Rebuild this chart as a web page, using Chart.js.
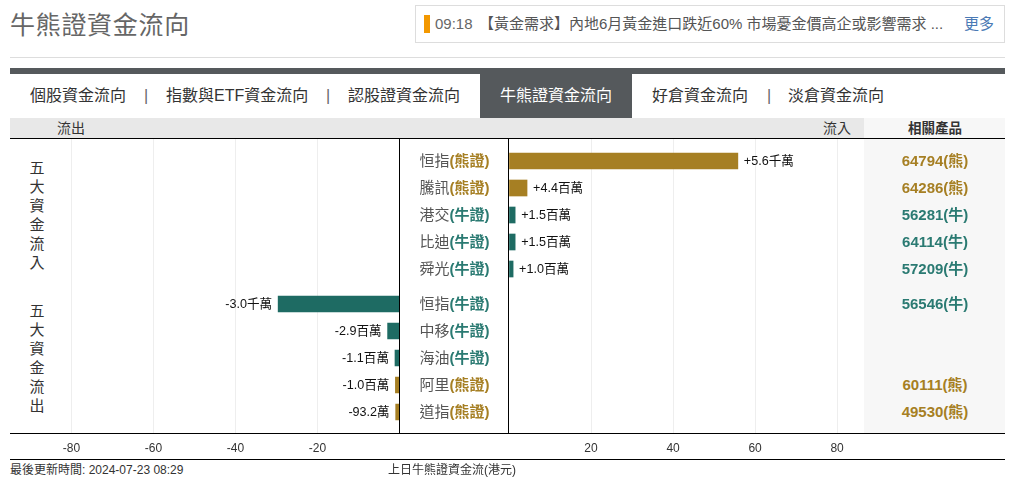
<!DOCTYPE html>
<html lang="zh-Hant">
<head>
<meta charset="utf-8">
<title>牛熊證資金流向</title>
<script src="https://cdn.jsdelivr.net/npm/chart.js@4"></script>
<style>
    html, body { margin: 0; padding: 0; background: #fff; }
    body { width: 1009px; height: 484px; position: relative; overflow: hidden; font-family: "Liberation Sans", "Noto Sans CJK TC", sans-serif; color: #333; }
    .abs { position: absolute; white-space: nowrap; }
    .title { left: 10px; top: 8px; font-size: 25px; line-height: 34px; color: #666; letter-spacing: 0.7px; }
    .rule { left: 10px; width: 995px; height: 1px; background: #ddd; }
    .news { left: 415px; top: 5px; width: 588px; height: 36px; border: 1px solid #ddd; }
    .mark { left: 424px; top: 15px; width: 6px; height: 18px; background: #f39800; }
    .newsText { top: 15px; font-size: 15px; line-height: 18px; color: #666; }
    .tab { top: 86px; font-size: 16px; line-height: 20px; color: #333; }
    .tabActive { left: 480px; top: 74px; width: 152px; height: 44px; background: #55595c; color: #fff; font-size: 16px; line-height: 43px; text-align: center; }
    .band { top: 118px; height: 20px; font-size: 14px; line-height: 21px; color: #333; }
    .line { left: 10px; width: 995px; height: 1px; background: #000; }
    .zero { top: 139px; width: 1px; height: 294px; background: #000; }
    .side { left: 29px; width: 16px; font-size: 15px; line-height: 19px; text-align: center; color: #333; white-space: normal; }
    .rowName { left: 400px; width: 109px; text-align: center; font-size: 15px; line-height: 18px; color: #555; }
    .rowCode { left: 865px; width: 140px; text-align: center; font-size: 15px; line-height: 18px; font-weight: bold; }
    .foot { top: 463px; font-size: 12px; line-height: 14px; color: #333; }
    canvas { position: absolute; }
</style>
</head>
<body>
<div class="abs title">牛熊證資金流向</div>
<div class="abs news"></div>
<div class="abs mark"></div>
<div class="abs newsText" style="left:435px">09:18</div>
<div class="abs newsText" style="left:479px;color:#555">【黃金需求】內地6月黃金進口跌近60% 市場憂金價高企或影響需求 ...</div>
<div class="abs newsText" style="left:964px;color:#4a7ab5">更多</div>
<div class="abs rule" style="top:57px"></div>
<div class="abs" style="left:10px;top:68px;width:995px;height:6px;background:#55595c"></div>
<div class="abs tab" style="left:30px">個股資金流向</div>
<div class="abs tab" style="left:144px;color:#666">|</div>
<div class="abs tab" style="left:166px">指數與ETF資金流向</div>
<div class="abs tab" style="left:326px;color:#666">|</div>
<div class="abs tab" style="left:348px">認股證資金流向</div>
<div class="abs tabActive">牛熊證資金流向</div>
<div class="abs tab" style="left:652px">好倉資金流向</div>
<div class="abs tab" style="left:767px;color:#666">|</div>
<div class="abs tab" style="left:788px">淡倉資金流向</div>
<div class="abs" style="left:10px;top:118px;width:854px;height:20px;background:#e8e8e8"></div>
<div class="abs" style="left:864px;top:118px;width:141px;height:315px;background:#f7f7f7"></div>
<div class="abs band" style="left:57px">流出</div>
<div class="abs band" style="left:823px">流入</div>
<div class="abs band" style="left:865px;width:140px;text-align:center;font-weight:bold;font-size:13.5px">相關產品</div>
<div class="abs side" style="top:158px">五大資金流入</div>
<div class="abs side" style="top:301px">五大資金流出</div>
<canvas id="outflowChart" style="left:10px;top:139px"></canvas>
<canvas id="inflowChart" style="left:507px;top:139px"></canvas>
<div id="rows"></div>
<div class="abs line" style="top:138px"></div>
<div class="abs line" style="top:433px"></div>
<div class="abs line" style="top:459px"></div>
<div class="abs zero" style="left:399px"></div>
<div class="abs zero" style="left:508px"></div>
<div class="abs foot" style="left:10px">最後更新時間: 2024-07-23 08:29</div>
<div class="abs foot" style="left:388px">上日牛熊證資金流(港元)</div>

<script>
// values are in HK$ millions, the unit of the axis
var inflowNames = ['恒指', '騰訊', '港交', '比迪', '舜光'];
var inflowTypes = ['熊證', '熊證', '牛證', '牛證', '牛證'];
var inflowValues = [55.8, 4.4, 1.5, 1.5, 1.0];
var inflowLabels = ['+5.6千萬', '+4.4百萬', '+1.5百萬', '+1.5百萬', '+1.0百萬'];
var inflowCodes = ['64794(熊)', '64286(熊)', '56281(牛)', '64114(牛)', '57209(牛)'];

var outflowNames = ['恒指', '中移', '海油', '阿里', '道指'];
var outflowTypes = ['牛證', '牛證', '牛證', '熊證', '熊證'];
var outflowValues = [-29.6, -2.9, -1.1, -1.0, -0.932];
var outflowLabels = ['-3.0千萬', '-2.9百萬', '-1.1百萬', '-1.0百萬', '-93.2萬'];
var outflowCodes = ['56546(牛)', '', '', '60111(熊)', '49530(熊)'];

var tickStep = 20;
var typeColors = { '牛證': '#1e6b63', '熊證': '#a67f23' };
var textColors = { '牛證': '#2a7a72', '熊證': '#a67f23' };

// the two groups of rows sit a little further apart than the rows themselves
var GROUP_GAP = 0.296;

function barPoints(values, firstSlot) {
    return values.map(function (v, i) {
        return { x: v, y: firstSlot + i };
    });
}

var valueLabelPlugin = {
    id: 'valueLabels',
    afterDatasetsDraw: function (chart, args, opts) {
        var ctx = chart.ctx;
        var bars = chart.getDatasetMeta(0).data;
        ctx.save();
        ctx.font = '12.6px "Liberation Sans", "Noto Sans CJK TC", sans-serif';
        ctx.fillStyle = '#111';
        ctx.textBaseline = 'middle';
        ctx.textAlign = opts.side === 'left' ? 'right' : 'left';
        bars.forEach(function (bar, i) {
            var gap = opts.side === 'left' ? -6 : 6;
            ctx.fillText(opts.labels[i], bar.x + gap, bar.y + 1);
        });
        ctx.restore();
    }
};

function buildChart(id, cfg) {
    var canvas = document.getElementById(id);
    canvas.width = cfg.width;
    canvas.height = 321;
    return new Chart(canvas, {
        type: 'bar',
        data: {
            datasets: [{
                data: barPoints(cfg.values, cfg.firstSlot),
                backgroundColor: cfg.types.map(function (t) { return typeColors[t]; }),
                barThickness: 16,
                borderWidth: 0,
            }],
        },
        options: {
            indexAxis: 'y',
            responsive: false,
            animation: false,
            layout: { padding: cfg.padding },
            plugins: {
                legend: { display: false },
                tooltip: { enabled: false },
                valueLabels: { labels: cfg.labels, side: cfg.side },
            },
            scales: {
                x: {
                    type: 'linear',
                    min: cfg.min,
                    max: cfg.max,
                    border: { display: false },
                    grid: {
                        color: function (c) { return c.tick.value === 0 ? 'transparent' : '#eee'; },
                        tickColor: 'transparent',
                        tickLength: 8,
                    },
                    ticks: {
                        stepSize: tickStep,
                        includeBounds: false,
                        padding: 0,
                        maxRotation: 0,
                        autoSkip: false,
                        color: '#333',
                        font: { size: 12, family: '"Liberation Sans", sans-serif' },
                        callback: function (v) { return v === 0 ? '' : v; },
                    },
                    afterFit: function (scale) { scale.height = 27; },
                },
                y: {
                    type: 'linear',
                    reverse: true,
                    display: false,
                    offset: false,
                    min: -0.815,
                    max: 10.074,
                    grid: { display: false },
                },
            },
        },
        plugins: [valueLabelPlugin],
    });
}

var outflowChart = buildChart('outflowChart', {
    width: 392, values: outflowValues, types: outflowTypes, labels: outflowLabels,
    firstSlot: 5 + GROUP_GAP, side: 'left', min: -95, max: 0, padding: { right: 2.5 },
});

var inflowChart = buildChart('inflowChart', {
    width: 358, values: inflowValues, types: inflowTypes, labels: inflowLabels,
    firstSlot: 0, side: 'right', min: 0, max: 86.8, padding: { left: 2 },
});

// the centre names and the product codes line up with the bars through the y scale
function addRows(chart, names, types, codes, firstSlot) {
    var holder = document.getElementById('rows');
    names.forEach(function (name, i) {
        var top = 139 + chart.scales.y.getPixelForValue(firstSlot + i) - 9;
        var nameEl = document.createElement('div');
        nameEl.className = 'abs rowName';
        nameEl.style.top = top + 'px';
        nameEl.innerHTML = name + '<span style="font-weight:bold;color:' + textColors[types[i]] + '">(' + types[i] + ')</span>';
        holder.appendChild(nameEl);
        var codeEl = document.createElement('div');
        codeEl.className = 'abs rowCode';
        codeEl.style.top = top + 'px';
        codeEl.style.color = textColors[types[i]];
        codeEl.textContent = codes[i];
        holder.appendChild(codeEl);
    });
}

addRows(inflowChart, inflowNames, inflowTypes, inflowCodes, 0);
addRows(outflowChart, outflowNames, outflowTypes, outflowCodes, 5 + GROUP_GAP);
</script>
</body>
</html>
